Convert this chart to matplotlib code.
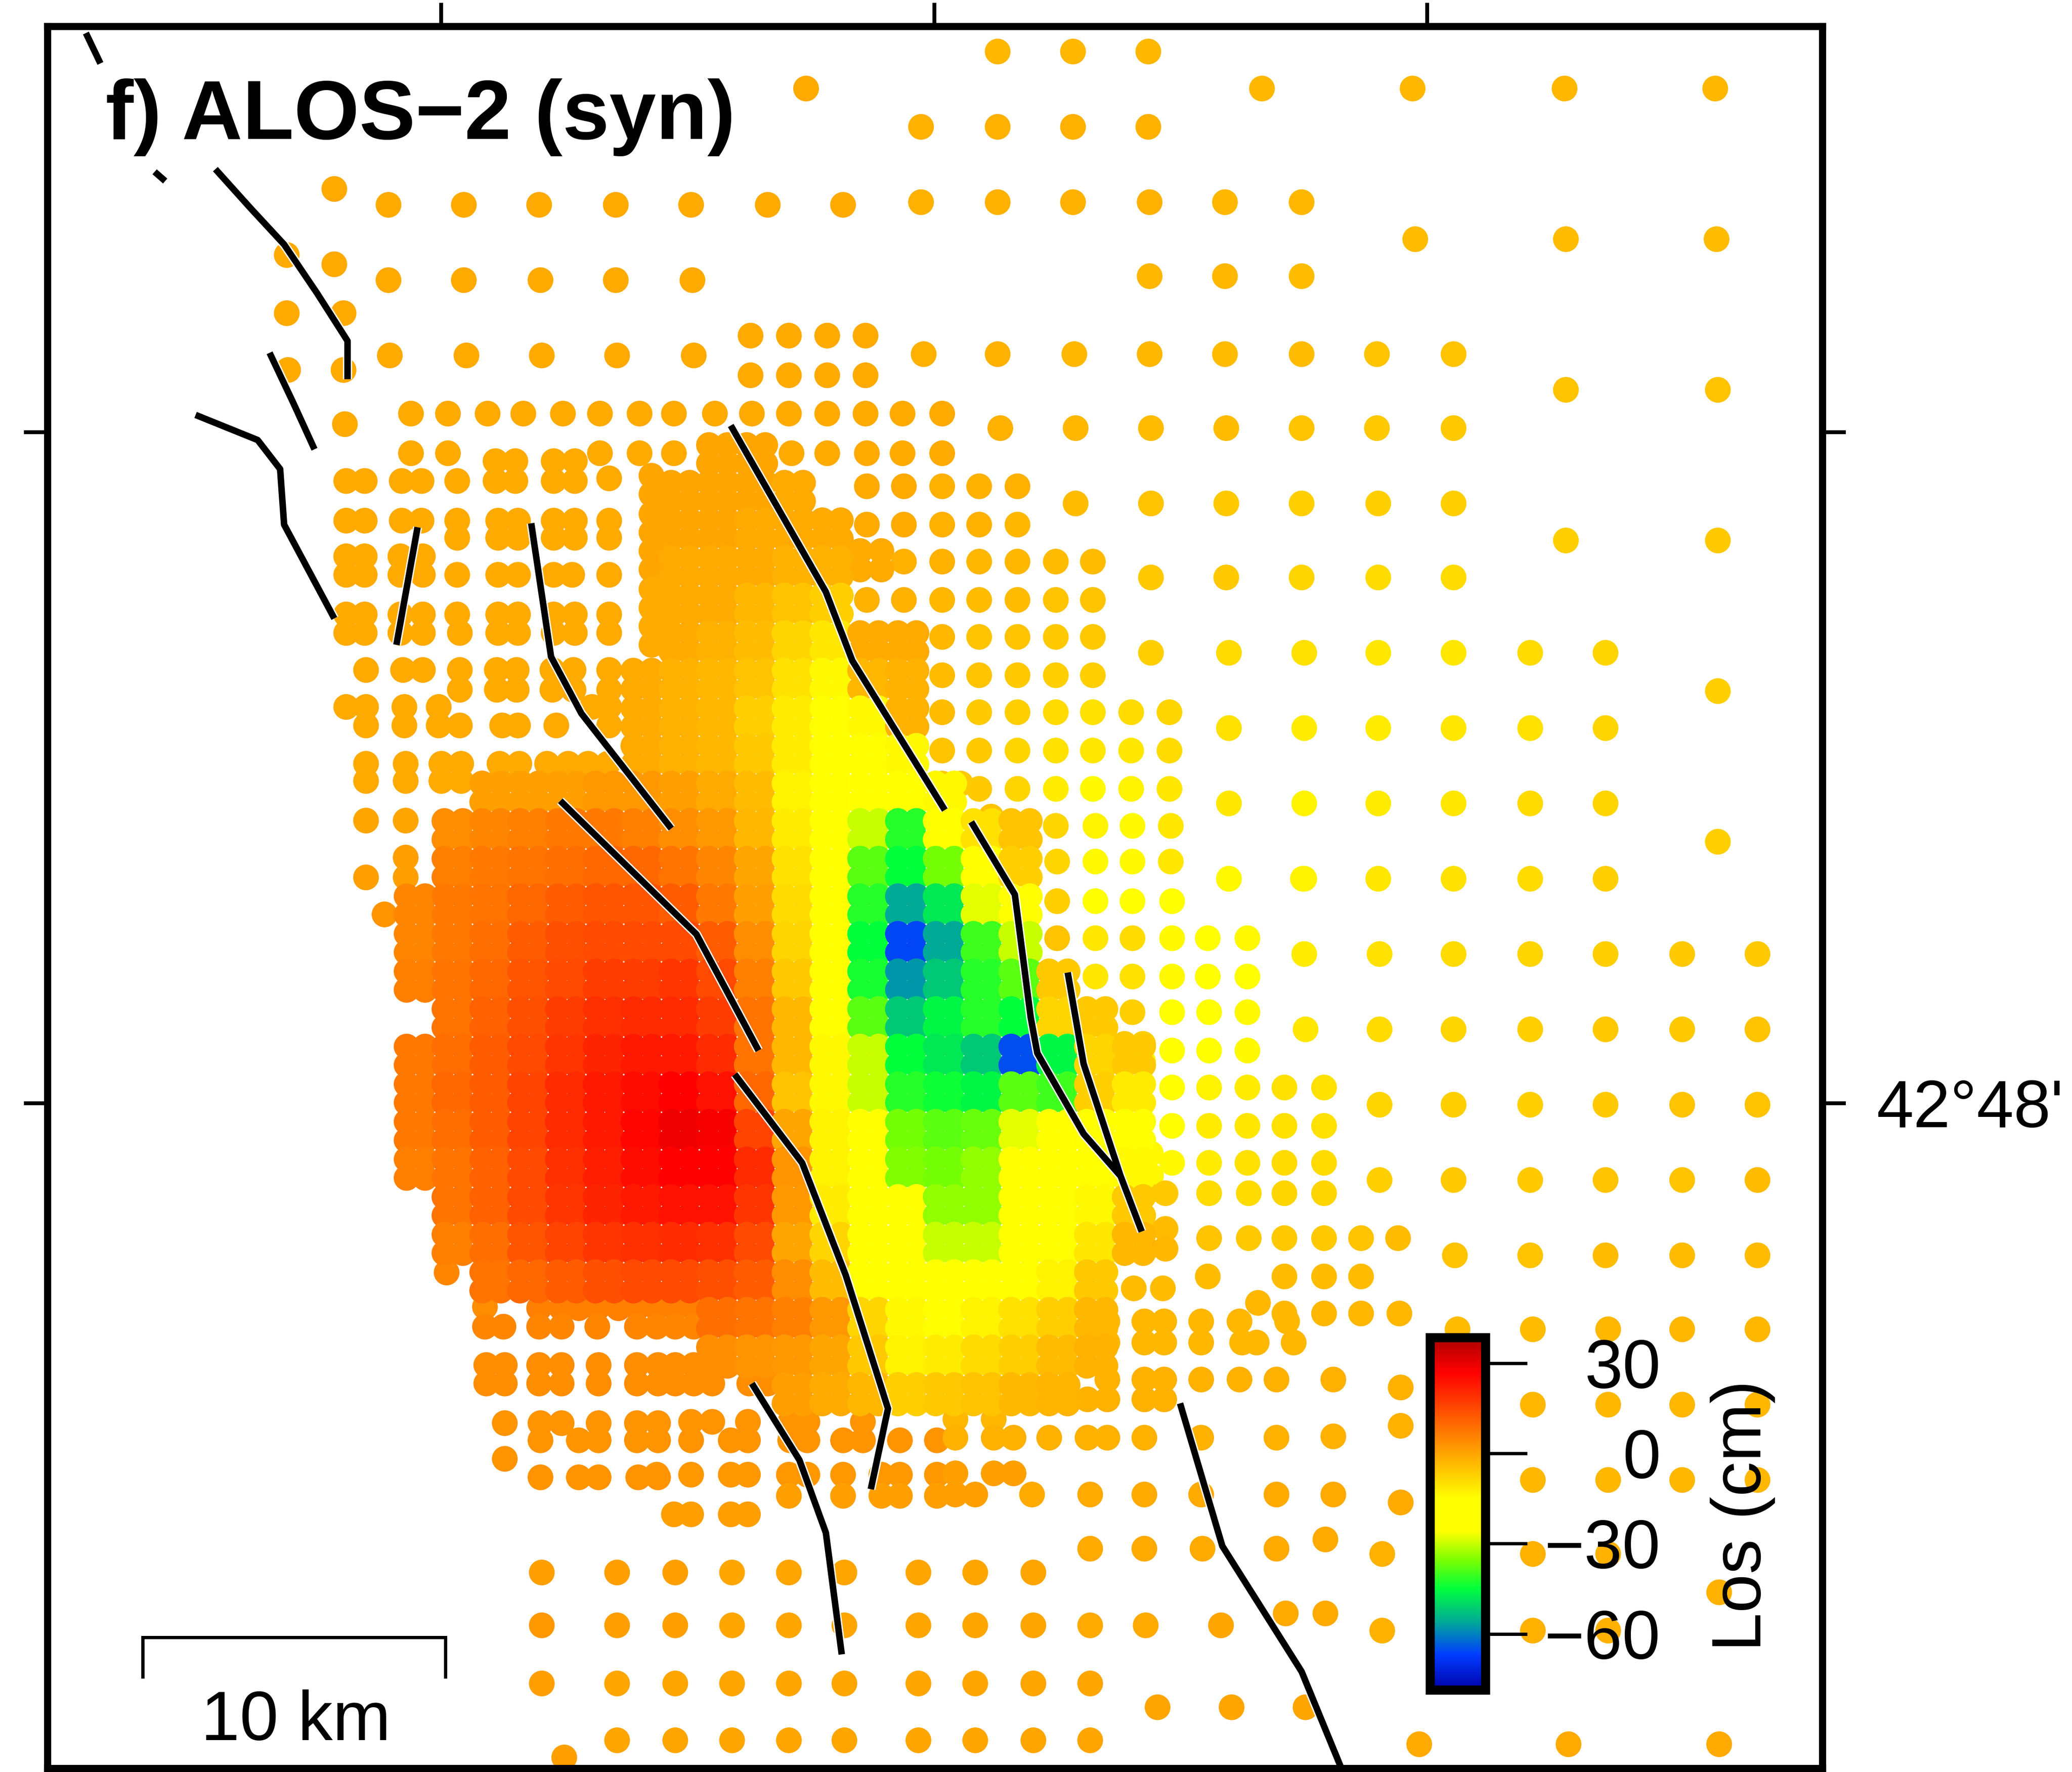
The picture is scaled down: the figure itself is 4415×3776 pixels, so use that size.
import numpy as np
import matplotlib
matplotlib.use("Agg")
import matplotlib.pyplot as plt
from matplotlib.colors import LinearSegmentedColormap, Normalize
from matplotlib.cm import ScalarMappable

n = np.nan
# ---------- data ----------
VMIN, VMAX = -78.7, 38.6
CPT_VALUES = [-78.7, -67, -56, -45, -35, -26, -15, 0, 27, 38.6]
CPT_COLORS = ["#0000aa", "#003cff", "#00aa96", "#00ff3c", "#82ff00", "#ffff00", "#ffff00", "#ffa500", "#ff0000", "#aa0000"]

# LOS values of the dense block (rows top to bottom, columns left to right, cm)
GRID_X = [314.7, 343.3, 371.9, 400.5, 429.1, 457.7, 486.3, 514.9, 543.5, 572.1, 600.7, 629.3, 657.9, 686.5, 715.1, 743.7, 772.3, 800.9, 829.5, 858.1]
GRID_Y = [343.8, 372.3, 400.7, 429.2, 457.6, 486.1, 514.5, 543.0, 571.4, 599.9, 628.3, 656.8, 685.2, 713.7, 742.1, 770.6, 799.0, 827.5, 855.9, 884.4, 912.8, 941.3, 969.7, 998.2, 1026.6, 1055.1]
GRID_V = [
 [n,n,n,n,n,n,n,n,0,0,n,n,n,n,n,n,n,n,n,n],
 [n,n,n,n,n,n,n,0,0,0,-1,n,n,n,n,n,n,n,n,n],
 [n,n,n,n,n,n,n,0,0,-1,-1,-1,n,n,n,n,n,n,n,n],
 [n,n,n,n,n,n,n,-1,-1,-1,-2,-2,n,n,n,n,n,n,n,n],
 [n,n,n,n,n,n,n,-1,-1,-3,-5,-7,n,n,n,n,n,n,n,n],
 [n,n,n,n,n,n,n,-1,-2,-4,-8,-11,-1,-1,n,n,n,n,n,n],
 [n,n,n,n,n,n,-1,-2,-3,-5,-10,-14,-3,-2,n,n,n,n,n,n],
 [n,n,n,n,n,n,-1,-2,-3,-7,-12,-15,-14,-2,n,n,n,n,n,n],
 [n,n,n,n,n,n,-1,-2,-3,-6,-12,-15,-15,-14,n,n,n,n,n,n],
 [n,n,1,1,1,2,2,1,-1,-4,-13,-15,-19,-20,-14,n,n,n,n,n],
 [n,4,5,6,7,7,6,4,2,-3,-12,-16,-30,-42,-24,-10,-5,n,n,n],
 [n,6,7,8,9,10,10,8,5,0,-10,-16,-38,-45,-36,-22,-7,n,n,n],
 [5,7,8,10,12,13,13,12,7,1,-9,-17,-42,-56,-48,-28,-15,n,n,n],
 [5,7,9,12,14,15,15,15,12,4,-8,-16,-45,-66,-56,-40,-30,n,n,n],
 [6,8,10,13,15,17,17,18,15,6,-6,-16,-43,-58,-52,-42,-38,-6,n,n],
 [n,8,11,14,17,19,20,20,17,8,-3,-16,-38,-52,-46,-42,-45,-8,-6,n],
 [7,9,12,15,18,21,23,23,20,8,-3,-14,-30,-45,-48,-52,-65,-46,-8,-6],
 [7,10,12,16,20,23,25,27,24,10,-5,-14,-30,-42,-44,-46,-38,-40,-7,-12],
 [7,9,12,16,20,23,26,29,28,16,0,-13,-23,-36,-38,-37,-28,-26,-15,-15],
 [6,8,11,15,19,22,25,27,27,20,3,-13,-17,-35,-36,-34,-20,-15,-15,-14],
 [n,8,11,15,18,21,23,24,24,18,2,-12,-16,-26,-34,-34,-20,-15,-14,-6],
 [n,6,9,13,16,18,19,20,19,15,0,-8,-15,-18,-30,-30,-18,-15,-11,-3],
 [n,n,8,10,12,14,15,15,14,12,4,-4,-16,-16,-17,-18,-16,-13,-6,n],
 [n,n,n,n,n,n,n,n,9,8,6,2,-8,-14,-15,-13,-10,-7,-3,n],
 [n,n,n,n,n,n,n,n,4,3,2,0,-6,-13,-12,-9,-7,-4,-2,n],
 [n,n,n,n,n,n,n,n,n,n,1,-1,-3,-7,-6,-5,-3.5,-2.5,n,n],
]

# individual points: (y, x positions, value or values)
TOP_ROWS = [
 (39, [755, 812, 869], -3),
 (67, [610], -1), (67, [955, 1069, 1184, 1298], -3),
 (96, [697, 755, 812, 869], -2),
 (155, [294, 351, 408, 466, 523, 581, 638], -1),
 (153, [697, 755, 812, 870, 927, 985], [-2, -2, -2, -2, -3, -3]),
 (181, [1071, 1185, 1299], -4),
 (212, [294, 351, 409, 466, 524], -1), (209, [870, 927, 985], [-3, -3, -4]),
 (143, [253], -1), (200, [253], -1), (193, [217], -1), (237, [217, 260], -1),
 (280, [218, 260], -1), (321, [261], -1),
 (254, [568, 597, 626, 655], -1), (284, [568, 597, 626, 655], -1),
 (269, [295, 353, 410, 467, 525], -1),
 (268, [699, 755, 813, 870, 927, 985, 1042, 1100], [-2, -2, -3, -3, -4, -4, -5, -5]),
 (295, [1185, 1300], -5),
 (313, [311, 339, 369, 396, 426, 454, 484, 510, 541, 569, 597, 626, 655, 683, 713], -1),
 (324, [757, 814, 871, 928, 985, 1042, 1100], [-2, -3, -4, -4, -5, -6, -6]),
 (343, [311, 339, 454, 484, 510, 599, 626, 656, 683, 713], -1),
 (381, [814, 871, 928, 985, 1043, 1100], [-4, -5, -6, -7, -7, -7]),
 (409, [1185, 1300], [-7, -6]),
 (437, [871, 928, 985, 1043, 1100], [-6, -6, -8, -9, -9]),
 (494, [871, 930, 987, 1043, 1100, 1158, 1215], [-7, -9, -10, -11, -11, -9, -8]),
 (523, [1300], -7),
 (551, [930, 987, 1043, 1100, 1158, 1215], [-10, -12, -12, -11, -10, -8]),
 (608, [930, 987, 1043, 1100, 1158, 1215], [-11, -13, -12, -11, -9, -8]),
 (637, [1300], -7),
 (665, [930, 987, 1043, 1100, 1158, 1215], [-14, -13, -11, -10, -9, -7]),
 (722, [987, 1044, 1100, 1158, 1215, 1273, 1330], [-12, -10, -9, -8, -7, -6, -6]),
 (779, [988, 1044, 1100, 1158, 1215, 1273, 1330], [-11, -9, -8, -7, -6, -6, -5]),
 (836, [1044, 1100, 1158, 1215, 1273, 1330], [-8, -7, -7, -6, -5, -5]),
 (893, [1044, 1100, 1158, 1215, 1273, 1330], [-7, -6, -6, -5, -5, -4]),
 (950, [1101, 1158, 1215, 1273, 1330], [-5, -5, -4, -4, -4]),
 (1006, [1103, 1160, 1217, 1273, 1330], [-4, -4, -3, -3, -3]),
 (1063, [1160, 1217, 1273, 1330], -3),
 (1120, [1160, 1217, 1273, 1330], -3),
 (1176, [1046, 1160, 1217], -2),
 (1205, [1301], -2),
 (1234, [1046, 1160, 1217], -2),
 (1320, [1074, 1187, 1301], -1),
]
LEFT_ROWS = [
 (349, [375, 390, 419, 435], -1),
 (362, [461], -1),
 (364, [262, 276, 304, 319, 346, 375, 390, 419, 435], -1),
 (394, [262, 276, 304, 319, 346, 377, 392, 419, 435, 461], -1),
 (407, [346, 377, 392, 419, 435, 461], -1),
 (421, [262, 276, 303, 320], -1),
 (435, [262, 276, 303, 320, 346, 377, 392, 419, 433, 461], -1),
 (465, [262, 276, 303, 320, 346, 377, 392, 419, 435, 461], -1),
 (479, [262, 276, 303, 320, 348, 377, 392, 419, 435, 461], -1),
 (507, [277, 305, 320, 348, 376, 391, 418, 434, 461], -1),
 (522, [348, 376, 391, 418, 434, 461], -1),
 (535, [262, 277, 306, 332, 448, 461], -1),
 (549, [277, 306, 332, 348, 380, 392, 421, 461], -1),
 (578, [277, 307, 334, 349, 378, 393, 414, 430, 445, 460], -1),
 (591, [277, 307, 334, 349, 378, 393], -1),
 (621, [277, 307], 0),
 (649, [307], 1), (664, [277, 307], 1),
 (692, [291], 3),
 (360, [493], 0), (374, [493], 0), (389, [493], 0), (403, [493], 0), (417, [493], 0),
 (431, [493], 0), (446, [493], -1), (460, [493], -1), (474, [493], -1), (488, [493], -1),
]
RIGHT_ROWS = [
 (368, [656, 684, 713, 741, 770], [-1, -1, -2, -2, -2]),
 (397, [656, 684, 713, 741, 770], [-1, -1, -2, -2, -3]),
 (417, [651, 667], -1),
 (425, [684, 713, 741, 770, 799, 827], [-2, -2, -3, -3, -4, -4]),
 (431, [651, 667], -1),
 (454, [656, 684, 713, 741, 770, 799, 827], [-2, -2, -3, -4, -4, -5, -5]),
 (482, [713, 741, 770, 799, 827], [-3, -5, -5, -6, -6]),
 (511, [713, 741, 770, 799, 827], [-4, -5, -6, -7, -7]),
 (539, [713, 741, 770, 799, 827, 856, 885], [-4, -6, -7, -9, -10, -9, -8]),
 (568, [713, 741, 770, 799, 827, 856, 885], [-5, -6, -8, -10, -11, -11, -9]),
 (593, [713, 727], -6),
 (597, [741, 770, 799, 827, 856, 885], [-6, -8, -12, -14, -13, -11]),
 (605, [713], -6),
 (618, [750], -5),
 (625, [772, 799, 829, 857, 886], [-6, -8, -13, -14, -11]),
 (652, [800, 829, 857, 886], [-8, -14, -14, -11]),
 (665, [930, 986], [-14, -13]),
 (682, [800, 829, 857, 887], [-7, -15, -15, -15]),
 (710, [800, 829, 857, 887, 914, 944], [-5, -11, -9, -14, -15, -14]),
 (739, [800, 829, 857, 887, 914, 944], [-4, -11, -10, -14, -15, -15]),
 (766, [857, 887, 915, 944], [-7, -15, -15, -14]),
 (790, [851, 865], [-6, -7]),
 (795, [887, 915, 944], [-15, -15, -14]),
 (803, [851, 865], [-9, -14]),
 (823, [857, 887, 915, 944, 972, 1002], [-15, -15, -13, -12, -10, -10]),
 (852, [857, 887, 915, 944, 972, 1002], [-15, -15, -12, -11, -10, -10]),
 (873, [857, 871], [-15, -14]),
 (880, [887, 915, 944, 972, 1002], [-14, -12, -10, -9, -9]),
 (890, [857, 871], [-15, -14]),
 (903, [867, 882, 915, 945, 972, 1002], [-6, -6, -9, -9, -8, -8]),
 (930, [867, 882], [-5, -4]),
 (937, [915, 945, 972, 1002, 1030, 1058], [-5, -6, -6, -6, -5, -4]),
 (945, [867, 882], [-1, -3]),
 (966, [914, 972, 1002, 1030], -4),
 (975, [858, 880], -4),
 (986, [952], -3),
 (994, [972, 1002, 1030, 1059], -3),
]
BOTTOM_ROWS = [
 (963, [338, 367], 5),
 (989, [367], 4),
 (990, [408, 425, 438, 452, 468, 482, 497, 511, 525], 6),
 (1004, [367, 381, 408, 425, 452, 482, 497, 511, 525], 5),
 (1033, [368, 382, 408, 425, 453, 482, 498, 525, 539, 511], 4),
 (1047, [368, 382, 408, 425, 453, 482, 498, 511, 525, 539, 567, 581], 4),
 (1077, [382, 409, 425, 453, 482, 498], 3),
 (1076, [523, 539, 566, 598, 611, 653], 3),
 (1090, [409, 438, 453, 482, 498, 523, 553, 566, 598, 611, 638, 653, 681, 709], 3),
 (1074, [723, 752], -3), (1088, [723, 752, 767, 794, 823, 838, 866, 909, 966], -2),
 (1104, [382], 3),
 (1116, [497, 523, 553, 566, 597, 611, 638, 667, 681, 709], 2),
 (1115, [723, 752, 767], 1),
 (1118, [409, 438, 453, 483, 498], 3),
 (1131, [723, 738, 781, 825, 866, 909, 966, 1009], [1, 1, -1, -1, -1, -1, -1, -1]),
 (1132, [597, 638, 667, 681, 709], 1),
 (1146, [510, 523, 553, 566], 1),
 (1172, [825, 866, 910, 966], -1),
 (1190, [410, 467, 511, 554, 597, 639, 695, 738, 782], [1, 1, 1, 0, 0, 0, 0, 0, 0]),
 (1230, [410, 467, 511, 554, 597, 639, 695, 738, 782, 825, 867, 924], [2, 1, 1, 0, 0, 0, 0, 0, 0, -1, -1, 0]),
 (1274, [410, 467, 511, 554, 597, 639, 695, 738, 782, 825], [1, 0, 0, 0, 0, 0, 0, 0, 0, 0]),
 (1292, [876, 932, 988], 0),
 (1317, [467, 511, 554, 597, 639, 695, 738, 782, 825], 0),
 (1330, [427], 1),
 (1000, [838, 866, 881, 909, 938, 974], -3),
 (1016, [838, 866, 881, 909, 940, 951, 979], -3),
 (1044, [838, 866, 881, 909, 938, 966, 1009], -2),
 (1050, [1060], -2),
 (1059, [823, 838, 866, 881, 794, 767], -2),
 (1079, [1060], -2), (1087, [1009], -2), (1137, [1060], -1),
 (1165, [1003], -1), (1221, [973, 1003], -1),
]

FAULTS = [
 [(65, 25), (76, 48)],
 [(117, 130), (125, 137)],
 [(163, 128), (190, 158), (215, 185), (240, 222), (263, 258), (263, 287)],
 [(204, 267), (222, 305), (238, 340)],
 [(148, 314), (195, 333), (212, 355), (215, 397), (253, 468)],
 [(316, 399), (300, 488)],
 [(402, 396), (417, 497), (440, 540), (508, 627)],
 [(553, 322), (625, 448), (645, 500), (715, 613)],
 [(735, 622), (768, 677), (780, 770), (785, 797), (820, 858), (848, 890), (864, 932)],
 [(808, 736), (820, 805), (848, 890)],
 [(424, 606), (527, 707), (550, 750), (574, 795)],
 [(556, 813), (607, 880), (640, 965), (672, 1066), (659, 1127)],
 [(569, 1047), (605, 1105), (625, 1160), (637, 1252)],
 [(893, 1062), (925, 1170), (985, 1265), (1015, 1338)],
]
SCALE_X = [108, 108, 337, 337]
SCALE_Y = [1269, 1239, 1239, 1269]
CB_TICKS = [30, 0, -30, -60]
CB_LABELS = ["30", "0", "\u221230", "\u221260"]
X_TICKS = [334, 707, 1080]
Y_TICKS = [327, 835]

# ---------- figure ----------
W, H = 4415, 3776
REF_W, REF_H = 1568, 1341
plt.rcParams['font.family'] = ['Liberation Sans', 'DejaVu Sans']
fig = plt.figure(figsize=(W / 100, H / 100), dpi=100, facecolor='white')
L, R, T, B = 36, 1379, 20, 1338
ax = fig.add_axes([L / REF_W, 1 - B / REF_H, (R - L) / REF_W, (B - T) / REF_H])
ax.set_xlim(L, R)
ax.set_ylim(B, T)

cmap = LinearSegmentedColormap.from_list(
    'los', [((v - VMIN) / (VMAX - VMIN), c) for v, c in zip(CPT_VALUES, CPT_COLORS)], N=512)
norm = Normalize(VMIN, VMAX)

xs, ys, vs = [], [], []
for rows in (TOP_ROWS, LEFT_ROWS, RIGHT_ROWS, BOTTOM_ROWS):
    for y, xlist, val in rows:
        vals = val if isinstance(val, list) else [val] * len(xlist)
        xs += list(xlist)
        ys += [y] * len(xlist)
        vs += vals

OFFX, OFFY = 7.0, 7.0
for i, gy in enumerate(GRID_Y):
    for j, gx in enumerate(GRID_X):
        v = GRID_V[i][j]
        if np.isnan(v):
            continue
        for dx in (-OFFX, OFFX):
            for dy in (-OFFY, OFFY):
                xs.append(gx + dx)
                ys.append(gy + dy)
                vs.append(v)

DOT_PT = 39.5
ax.scatter(xs, ys, c=vs, cmap=cmap, norm=norm, s=DOT_PT ** 2, linewidths=0, zorder=2, clip_on=True)

for f in FAULTS:
    fx, fy = zip(*f)
    ax.plot(fx, fy, color='white', lw=14, solid_capstyle='butt', solid_joinstyle='round', zorder=3)
for f in FAULTS:
    fx, fy = zip(*f)
    ax.plot(fx, fy, color='black', lw=10, solid_capstyle='butt', solid_joinstyle='round', zorder=4)

# frame and ticks
for s in ax.spines.values():
    s.set_linewidth(11)
    s.set_zorder(10)
ax.set_xticks(X_TICKS)
ax.set_xticklabels([])
ax.set_yticks(Y_TICKS)
ax.set_yticklabels([])
ax.tick_params(top=True, bottom=True, left=True, right=True, length=36, width=6, direction='out')

ax.text(80, 105, "f) ALOS\u22122 (syn)", fontsize=129, fontweight='bold', ha='left', va='baseline', zorder=8)
ax.text(1420, 853, "42\u00b048'", fontsize=102, ha='left', va='baseline', clip_on=False, zorder=8)

# scale bar
ax.plot(SCALE_X, SCALE_Y, color='black', lw=5, solid_joinstyle='miter', zorder=6)
ax.text(224, 1317, "10 km", fontsize=107, ha='center', va='baseline', zorder=8)

# colour bar
cb_l, cb_r, cb_t, cb_b = 1082, 1124, 1012, 1279
cax = fig.add_axes([cb_l / REF_W, 1 - cb_b / REF_H, (cb_r - cb_l) / REF_W, (cb_b - cb_t) / REF_H], zorder=5)
cb = fig.colorbar(ScalarMappable(norm=norm, cmap=cmap), cax=cax)
cb.outline.set_linewidth(14)
cb.set_ticks(CB_TICKS)
cb.set_ticklabels(CB_LABELS)
cax.tick_params(length=64, width=5, labelsize=105, pad=205)
for lab in cax.get_yticklabels():
    lab.set_ha('right')
ax.text(1319, 1147, "Los (cm)", fontsize=107, rotation=90, ha='center', va='center', zorder=8)

fig.savefig('out.png', dpi=100, facecolor='white')
